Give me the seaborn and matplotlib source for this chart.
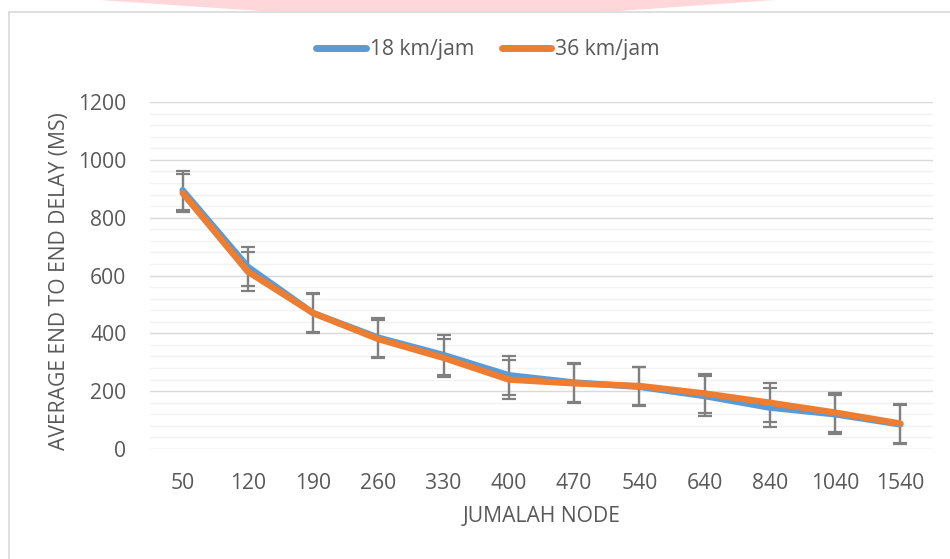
import numpy as np
import pandas as pd
import seaborn as sns
import matplotlib.pyplot as plt
from matplotlib.patches import Polygon
from matplotlib.lines import Line2D

# data
nodes = ["50", "120", "190", "260", "330", "400", "470", "540", "640", "840", "1040", "1540"]
delay_18 = [895, 630, 470, 385, 325, 255, 230, 215, 183, 143, 120, 85]
delay_36 = [885, 613, 470, 380, 315, 240, 227, 218, 192, 160, 126, 88]
err_18 = 68
err_36 = 67
series_names = ["18 km/jam", "36 km/jam"]

BLUE = "#5B9BD5"
ORANGE = "#ED7D31"
TXT = "#595959"
FS = 15.2

sns.set_theme(style="white")
plt.rcParams["font.family"] = ["Open Sans", "DejaVu Sans"]

df = pd.DataFrame({
    "node": nodes * 2,
    "delay": delay_18 + delay_36,
    "speed": [series_names[0]] * len(nodes) + [series_names[1]] * len(nodes),
})

fig = plt.figure(figsize=(9.5, 5.59), dpi=100)
W, H = 950, 559

# pink watermark remnant and chart frame
fig.patches.append(Polygon([(100 / W, 1.0), (275 / W, 1 - 12 / H), (605 / W, 1 - 12 / H), (775 / W, 1.0)],
                           closed=True, transform=fig.transFigure, facecolor="#FFD6DA",
                           edgecolor="none", zorder=0))
fig.lines.append(Line2D([9 / W, 1.0], [1 - 12 / H, 1 - 12 / H], transform=fig.transFigure,
                        color="#D9D9D9", lw=1.2))
fig.lines.append(Line2D([9 / W, 9 / W], [0, 1 - 12 / H], transform=fig.transFigure,
                        color="#D9D9D9", lw=1.2))

ax = fig.add_axes([150 / W, 1 - 449 / H, (933 - 150) / W, (449 - 102) / H])

x = np.arange(len(nodes))
ax.errorbar(x, delay_18, yerr=err_18, fmt="none", ecolor="#808080", elinewidth=1.6,
            capsize=5, capthick=1.6, zorder=2)
ax.errorbar(x, delay_36, yerr=err_36, fmt="none", ecolor="#808080", elinewidth=1.6,
            capsize=5, capthick=1.6, zorder=2)

sns.lineplot(data=df, x="node", y="delay", hue="speed", palette=[BLUE, ORANGE],
             linewidth=4.6, ax=ax, legend=False, zorder=3)
for ln in ax.lines:
    ln.set_solid_capstyle("round")
    ln.set_solid_joinstyle("round")

ax.set_xlim(-0.5, len(nodes) - 0.5)
ax.set_ylim(0, 1200)
ax.set_yticks(np.arange(0, 1201, 200))
ax.set_yticks(np.arange(0, 1201, 40), minor=True)
ax.grid(which="minor", axis="y", color="#F2F2F2", lw=1.0, zorder=0)
ax.grid(which="major", axis="y", color="#D9D9D9", lw=1.0, zorder=0)
ax.grid(False, axis="x")
ax.set_axisbelow(True)
for s in ax.spines.values():
    s.set_visible(False)

ax.tick_params(axis="both", which="both", length=0, labelsize=FS, labelcolor=TXT)
ax.tick_params(axis="x", pad=17)
ax.tick_params(axis="y", pad=17)

ax.set_xlabel("JUMALAH NODE", fontsize=FS, color=TXT)
ax.set_ylabel("AVERAGE END TO END DELAY (MS)", fontsize=FS, color=TXT)
ax.xaxis.set_label_coords(0.5, -(506 - 449) / (449 - 102))
ax.yaxis.set_label_coords(-(150 - 70) / (933 - 150), 0.485)

handles = [Line2D([], [], color=BLUE, lw=5, solid_capstyle="round"),
           Line2D([], [], color=ORANGE, lw=5, solid_capstyle="round")]
leg = fig.legend(handles, series_names, loc="center", bbox_to_anchor=(488 / W, 1 - 50 / H),
                 ncol=2, frameon=False, fontsize=FS, handlelength=2.35, handletextpad=0.2,
                 columnspacing=1.3)
for t in leg.get_texts():
    t.set_color(TXT)

fig.savefig("out.png", dpi=100, facecolor="white")
